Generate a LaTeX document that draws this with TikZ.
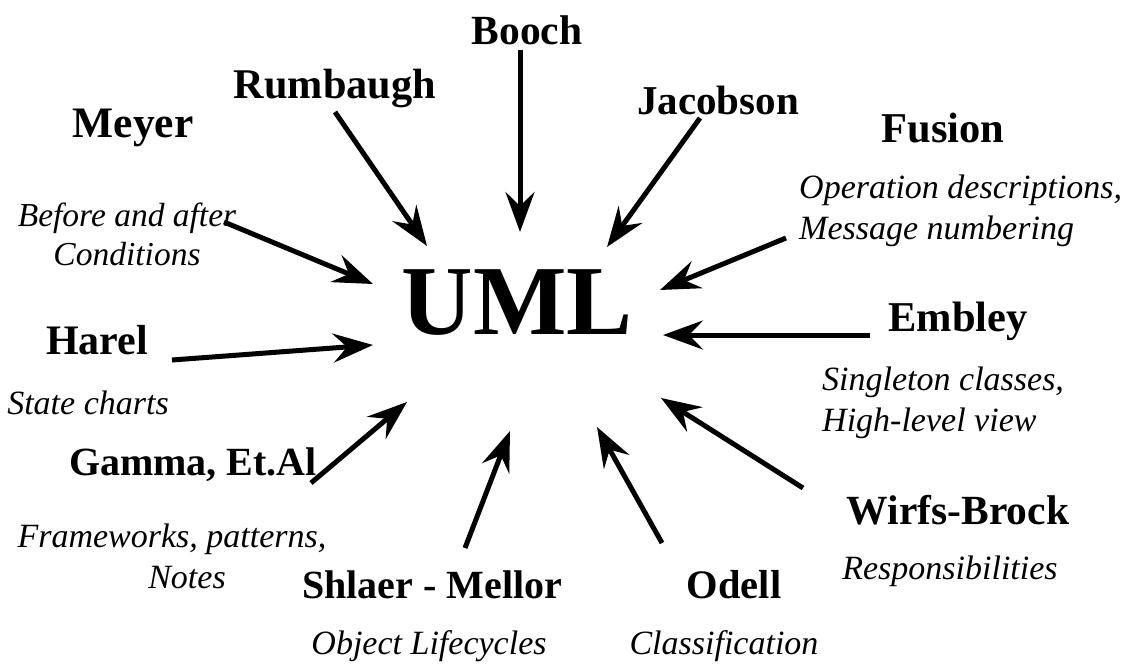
\documentclass[tikz,border=0pt]{standalone}
\usepackage{fontspec}
\setmainfont{Liberation Serif}
\usetikzlibrary{arrows.meta}
\begin{document}
\begin{tikzpicture}[x=1pt,y=-1pt,
  author/.style={font=\fontsize{#1}{#1}\selectfont\bfseries, inner sep=0pt},
  author/.default=41.5,
  note/.style={font=\fontsize{34}{41}\selectfont\itshape, inner sep=0pt, align=center},
  feed/.style={line width=5pt, -{Stealth[length=40pt,width=29pt,inset=14pt]}}]
\useasboundingbox (0,0) rectangle (1131,668);
% centre
\node[inner sep=0pt, font=\fontsize{99}{110}\selectfont\bfseries] (uml) at (517,303) {UML};
% contributors and their contributions
\node[author] (booch) at (527,30) {Booch};
\node[author=42.3] (rumbaugh) at (335,88) {Rumbaugh};
\node[author=41] (jacobson) at (718,100) {Jacobson};
\node[author=43.5] (meyer) at (133,128) {Meyer};
\node[note, font=\fontsize{33.5}{39}\selectfont\itshape] (meyern) at (127,234) {Before and after\\Conditions};
\node[author=42] (harel) at (97,340) {Harel};
\node[note] (hareln) at (88,403) {State charts};
\node[author=40] (gamma) at (193,465) {Gamma, Et.Al};
\node[note] (gamman) at (172,556) {Frameworks, patterns,\\\hspace*{30pt}Notes};
\node[author=40] (shlaer) at (432,585) {Shlaer - Mellor};
\node[note] (shlaern) at (429,646) {Object Lifecycles};
\node[author=40.5] (odell) at (734,585) {Odell};
\node[note] (odelln) at (724,646) {Classification};
\node[author] (wirfs) at (958,510) {Wirfs-Brock};
\node[note] (wirfsn) at (950,571) {Responsibilities};
\node[author=42.5] (embley) at (958,321) {Embley};
\node[note, align=left, anchor=west] (embleyn) at (822,403) {Singleton classes,\\High-level view};
\node[author=42.5] (fusion) at (943,128) {Fusion};
\node[note, align=left, anchor=west] (fusionn) at (799,211) {Operation descriptions,\\Message numbering};
% arrow ends
\coordinate (b0) at (520,50);  \coordinate (b1) at (520,232);
\coordinate (r0) at (335,112); \coordinate (r1) at (427,246);
\coordinate (j0) at (700,118); \coordinate (j1) at (607,247);
\coordinate (m0) at (224,222); \coordinate (m1) at (373,284);
\coordinate (h0) at (172,360); \coordinate (h1) at (373,345);
\coordinate (g0) at (311,483); \coordinate (g1) at (407,402);
\coordinate (s0) at (465,548); \coordinate (s1) at (510,431);
\coordinate (o0) at (662,543); \coordinate (o1) at (597,427);
\coordinate (w0) at (803,488); \coordinate (w1) at (661,398);
\coordinate (e0) at (870,335); \coordinate (e1) at (663,335);
\coordinate (f0) at (786,238); \coordinate (f1) at (660,290);
\foreach \a in {b,r,j,m,h,g,s,o,w,e,f}
  \draw[feed] (\a0) -- (\a1);
\end{tikzpicture}
\end{document}
